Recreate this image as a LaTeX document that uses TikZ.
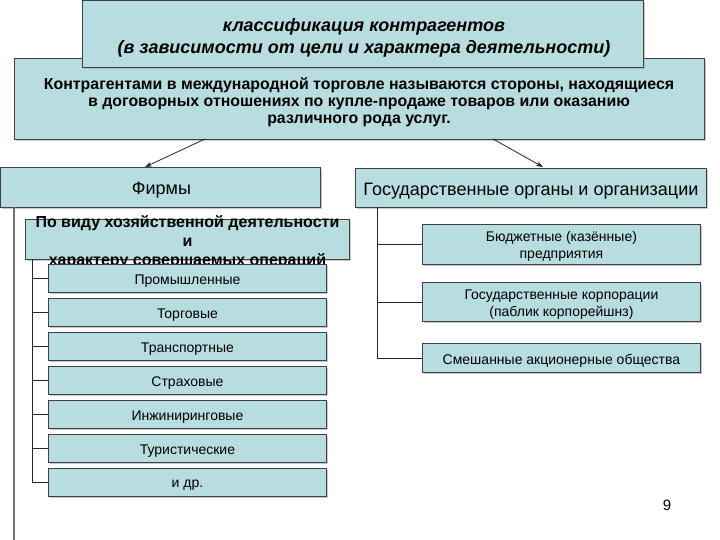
\documentclass[tikz,border=0pt]{standalone}
\usepackage{fontspec}
\setmainfont{Liberation Sans}
\usetikzlibrary{shadows,arrows.meta,calc}
\definecolor{boxfill}{RGB}{184,221,225}
\tikzset{
  box/.style={draw=black!75, line width=0.9pt, fill=boxfill, inner sep=0pt,
    anchor=north west,
    drop shadow={shadow xshift=1.2pt, shadow yshift=-1.2pt, fill=black!35, opacity=0.6}},
  txt/.style={inner sep=0pt, align=center},
  stxt/.style={txt, font=\fontsize{14}{17}\selectfont},
  conn/.style={draw=black!85, line width=0.8pt},
  arr/.style={conn, -{Stealth[length=7pt,width=5pt]}}
}
\newcommand\smallbox[3]{%
  \node[box, minimum width=278pt, minimum height=28pt] (#1) at (48,#2) {};
  \node[stxt] (#1t) at ($(#1.center)+(0,2.5)$) {#3};}
\begin{document}
\begin{tikzpicture}[x=1pt,y=-1pt]
\useasboundingbox (0,0) rectangle (720,540);
% definition and title
\node[box, minimum width=690pt, minimum height=81pt] (def) at (14,58) {};
\node[txt, font=\bfseries\fontsize{15.9}{17}\selectfont] (deftext) at (359,102)
  {Контрагентами в международной торговле называются стороны, находящиеся\\
   в договорных отношениях по купле-продаже товаров или оказанию\\
   различного рода услуг.};
\node[box, minimum width=561pt, minimum height=67pt] (title) at (82,0) {};
\node[txt, font=\bfseries\itshape\fontsize{18}{22}\selectfont] (titletext) at ($(title.center)+(1,3.5)$)
  {классификация контрагентов\\(в зависимости от цели и характера деятельности)};
% second level
\node[box, minimum width=320pt, minimum height=40pt] (firms) at (0,167) {};
\node[txt, font=\fontsize{18}{21}\selectfont] (firmst) at ($(firms.center)+(1,3)$) {Фирмы};
\node[box, minimum width=351pt, minimum height=39pt] (gov) at (355,168) {};
\node[txt, font=\fontsize{18}{21}\selectfont] (govt) at ($(gov.center)+(0,3)$) {Государственные органы и организации};
\coordinate (a1) at (205,139);
\coordinate (a2) at (493,139);
\draw[arr] (a1) -- (145,167) coordinate (b1);
\draw[arr] (a2) -- (543,167) coordinate (b2);
% left vertical line
\coordinate (lv) at (14,207);
\coordinate (lvend) at (14,540);
\draw[draw=black!55, line width=1.6pt] (lv) -- (lvend);
% kind box
\coordinate (iv) at (32,259);
\node[box, minimum width=324pt, minimum height=40pt] (kind) at (25,219) {};
\node[txt, font=\bfseries\fontsize{16}{19}\selectfont] (kindt) at ($(kind.center)+(0,3)$)
  {По виду хозяйственной деятельности\\и\\характеру совершаемых операций};
% small boxes
\smallbox{p1}{264}{Промышленные}
\smallbox{p2}{298}{Торговые}
\smallbox{p3}{332}{Транспортные}
\smallbox{p4}{366}{Страховые}
\smallbox{p5}{400}{Инжиниринговые}
\smallbox{p6}{434}{Туристические}
\smallbox{p7}{468}{и др.}
\draw[conn] (iv) |- (p7.west);
\foreach \i in {1,...,6} { \draw[conn] (iv |- p\i.west) -- (p\i.west); }
% right side
\coordinate (gv) at (377,207);
\node[box, minimum width=278pt, minimum height=40pt] (r1) at (422,224) {};
\node[stxt] (r1t) at ($(r1.center)+(0,2)$) {Бюджетные (казённые)\\предприятия};
\node[box, minimum width=278pt, minimum height=39pt] (r2) at (422,282) {};
\node[stxt] (r2t) at ($(r2.center)+(0,3)$) {Государственные корпорации\\(паблик корпорейшнз)};
\node[box, minimum width=278pt, minimum height=29pt] (r3) at (422,343) {};
\node[stxt] (r3t) at ($(r3.center)+(0,2.5)$) {Смешанные акционерные общества};
\draw[conn] (gv) |- (r3.west);
\draw[conn] (gv |- r1.west) -- (r1.west);
\draw[conn] (gv |- r2.west) -- (r2.west);
% page number
\node[font=\fontsize{15}{17}\selectfont] (num) at (667,505) {9};
\end{tikzpicture}
\end{document}
